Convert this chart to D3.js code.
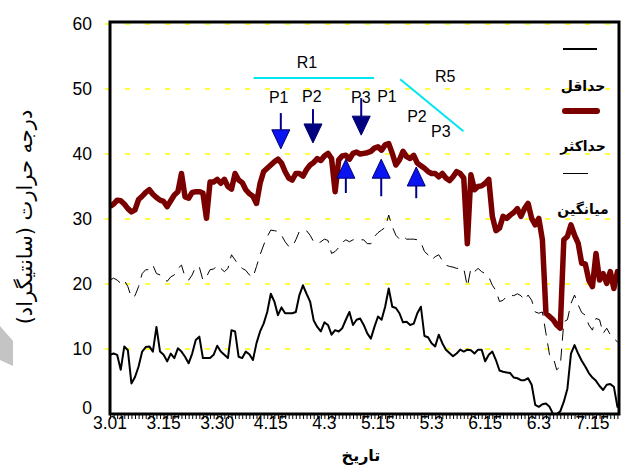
<!DOCTYPE html>
<html>
<head>
<meta charset="utf-8">
<script src="https://cdnjs.cloudflare.com/ajax/libs/d3/7.8.5/d3.min.js"></script>
<style>
  body { margin: 0; background: #fff; }
  text { font-family: "Liberation Sans", Arial, sans-serif; }
  .fa { font-family: "DejaVu Sans", sans-serif; }
</style>
</head>
<body>
<div id="chart"></div>
<script>
// tick labels (day index -> date label)
const tickDays = [0, 15, 30, 45, 60, 75, 90, 105, 120, 135]
const tickLabels = ["3.01", "3.15", "3.30", "4.15", "4.3", "5.15", "5.3", "6.15", "6.3", "7.15"]
const yTicks = [0, 10, 20, 30, 40, 50, 60]

// daily max temperature
const tMax = [
  31.9, 32.3, 32.9, 32.8, 32.3, 31.6, 31.1, 31.4, 33.0, 33.5,
  34.1, 34.5, 33.8, 33.3, 32.9, 32.7, 31.9, 32.8, 33.7, 34.2,
  37.0, 33.4, 33.2, 34.1, 34.2, 34.2, 34.0, 30.1, 35.7, 35.7,
  36.1, 35.5, 36.1, 35.0, 34.6, 37.0, 36.0, 35.6, 34.5, 33.9,
  33.5, 32.4, 35.5, 37.3, 37.8, 38.3, 38.8, 39.2, 38.6, 37.3,
  36.3, 36.0, 37.0, 37.0, 36.6, 37.6, 38.3, 38.7, 39.3, 39.0,
  39.7, 40.1, 39.3, 34.2, 39.1, 39.7, 39.8, 39.2, 40.1, 40.3,
  40.0, 40.1, 40.2, 40.4, 40.9, 41.1, 40.6, 41.4, 41.6, 40.1,
  38.3, 39.1, 40.4, 39.6, 39.3, 39.8, 38.6, 38.2, 37.8, 37.3,
  37.0, 37.0, 36.5, 37.0, 36.3, 35.9, 36.5, 37.3, 37.0, 36.3,
  26.2, 36.8, 34.5, 35.0, 35.1, 35.5, 36.1, 30.4, 28.2, 28.6,
  30.4, 30.1, 30.6, 31.0, 31.6, 30.4, 31.6, 32.4, 30.1, 29.1,
  30.1, 26.8, 15.5, 15.0, 14.5, 13.7, 13.2, 26.8, 27.3, 29.1,
  27.5, 26.3, 23.2, 23.1, 20.6, 19.6, 24.7, 20.6, 21.6, 20.1,
  21.9, 19.3, 21.9, 20.4
]

// daily min temperature
const tMin = [
  9.1, 9.3, 9.1, 6.8, 10.4, 9.8, 4.7, 5.7, 7.3, 9.6,
  10.3, 10.4, 9.6, 13.4, 9.6, 9.1, 8.1, 9.3, 8.6, 10.1,
  9.6, 8.8, 7.8, 9.3, 11.4, 11.9, 8.6, 8.6, 8.6, 9.1,
  10.5, 9.6, 9.1, 8.6, 12.9, 12.7, 8.8, 8.6, 9.6, 9.2,
  8.3, 10.9, 12.7, 13.9, 15.7, 18.5, 17.3, 15.2, 16.4, 15.5,
  15.5, 15.5, 15.7, 18.3, 19.8, 18.5, 17.3, 14.4, 13.4, 12.7,
  14.1, 13.7, 12.2, 12.9, 12.7, 13.2, 14.5, 15.7, 13.7, 14.5,
  14.7, 13.7, 12.4, 11.6, 13.4, 15.0, 14.5, 16.5, 19.3, 16.5,
  16.3, 15.5, 14.1, 14.2, 13.7, 13.9, 15.5, 16.5, 12.0, 11.8,
  10.9, 10.4, 12.2, 10.9, 9.9, 9.4, 8.9, 9.3, 9.9, 9.6,
  9.9, 9.8, 9.3, 9.9, 9.9, 8.1, 9.1, 9.6, 8.3, 6.7,
  6.5, 6.4, 6.3, 5.6, 5.5, 5.2, 5.2, 5.5, 4.5, 1.4,
  1.1, 1.5, 1.6, 1.1, 0, 0, 0.4, 1.9, 3.9, 9.3,
  10.6, 9.3, 8.2, 7.3, 6.3, 5.6, 5.1, 4.3, 3.7, 4.5,
  4.6, 4.2, 1.1, 1.4
]

// daily mean temperature
const tMean = [
  20.6, 20.9, 20.6, 20.1, 20.6, 19.6, 17.9, 18.2, 19.6, 21.6,
  22.2, 22.2, 22.9, 21.6, 21.4, 20.9, 20.4, 21.1, 21.4, 22.4,
  22.9, 21.1, 20.6, 21.4, 22.7, 22.6, 20.6, 21.1, 22.2, 22.3,
  22.9, 22.4, 21.9, 22.4, 24.5, 23.7, 22.9, 22.4, 22.1, 21.4,
  21.0, 22.7, 24.5, 26.0, 27.3, 28.3, 28.2, 28.1, 27.5, 26.5,
  25.8, 25.7, 26.8, 28.1, 28.3, 28.2, 27.5, 26.5, 26.2, 26.5,
  26.9, 26.7, 24.7, 25.0, 25.6, 26.4, 26.8, 26.5, 26.8, 26.9,
  26.8, 26.8, 26.2, 26.2, 27.3, 27.9, 28.3, 28.7, 30.6, 28.8,
  27.5, 26.9, 27.3, 26.9, 26.9, 26.9, 26.8, 26.4, 25.0, 24.5,
  23.7, 24.2, 24.5, 23.6, 22.9, 22.7, 22.6, 22.4, 22.4, 22.4,
  19.6, 22.4, 21.9, 22.4, 21.9, 21.6, 21.1, 19.8, 19.0, 17.3,
  17.5, 18.1, 18.3, 18.2, 18.5, 18.2, 17.5, 18.3, 17.5, 15.7,
  15.5, 15.7, 12.4, 9.1, 8.8, 6.8, 7.3, 14.2, 14.5, 17.0,
  18.3, 16.8, 15.6, 15.2, 13.7, 12.9, 14.7, 14.5, 12.4, 13.2,
  12.2, 11.6, 11.1, 10.6
]

// annotations: [label, day, temp]
const annLabels = [
  ["R1", 55.1, 53.2], ["P1", 47.2, 47.8], ["P2", 56.5, 48.0], ["P3", 70.2, 47.8],
  ["P1", 77.5, 48.0], ["R5", 93.8, 51.1], ["P2", 85.9, 44.9], ["P3", 92.6, 42.6]
]
// cyan lines: [day1, temp1, day2, temp2]
const annLines = [[40.2, 51.7, 73.9, 51.7], [81.2, 51.5, 98.9, 43.5]]
// arrows: [day, tailTemp, tipTemp, kind]
const arrows = [
  [47.8, 46.3, 40.8, "light"], [56.8, 46.9, 41.7, "dark"], [70.3, 48.6, 42.9, "dark"],
  [66.0, 34.0, 39.2, "light"], [75.9, 33.5, 39.2, "light"], [85.7, 33.2, 38.0, "light"]
]

const width = 621, height = 467
const plot = { left: 110, right: 619, top: 24, bottom: 414 }

const svg = d3.select("#chart").append("svg")
  .attr("width", width).attr("height", height)

const x = d3.scaleLinear().domain([0, 143]).range([plot.left, 621])
const y = d3.scaleLinear().domain([0, 60]).range([plot.bottom, plot.top])
const days = tMax.map((v, i) => i)

// grey watermark fragment on the left
svg.append("polygon")
  .attr("points", "0,326 13,341 13,366 0,360")
  .attr("fill", "#c4c4c4")

svg.append("defs").append("clipPath").attr("id", "clip")
  .append("rect")
  .attr("x", plot.left).attr("y", plot.top - 4)
  .attr("width", plot.right - plot.left).attr("height", plot.bottom - plot.top + 4)

// yellow dashed gridlines
svg.append("g").selectAll("line").data(yTicks.slice(1)).enter().append("line")
  .attr("x1", 105).attr("x2", plot.right)
  .attr("y1", d => y(d)).attr("y2", d => y(d))
  .attr("stroke", "#ffff00").attr("stroke-width", 1.6)
  .attr("stroke-dasharray", "5,15")

// y tick labels
svg.append("g").selectAll("text").data(yTicks).enter().append("text")
  .attr("x", 92).attr("y", d => y(d) + (d === 0 ? 0 : 6))
  .attr("text-anchor", "end").attr("font-size", 17.5)
  .text(d => d)

// x axis: daily minor ticks
const xAxis = d3.axisBottom(x).tickValues(d3.range(0, 144)).tickSize(5).tickFormat("")
const xAxisG = svg.append("g").attr("transform", `translate(0, ${plot.bottom})`).call(xAxis)
xAxisG.select(".domain").remove()
xAxisG.selectAll("line").attr("stroke", "#000").attr("stroke-width", 1)

svg.append("g").selectAll("text").data(tickDays).enter().append("text")
  .attr("x", d => x(d)).attr("y", 429)
  .attr("text-anchor", "middle").attr("font-size", 17.5)
  .text((d, i) => tickLabels[i])

// lines
const lineOf = arr => d3.line().x(d => x(d)).y(d => y(arr[d]))
const lines = svg.append("g").attr("clip-path", "url(#clip)")

lines.append("path").datum(days)
  .attr("d", lineOf(tMean))
  .attr("fill", "none").attr("stroke", "#000").attr("stroke-width", 1)
  .attr("stroke-dasharray", "12,8")

lines.append("path").datum(days)
  .attr("d", lineOf(tMin))
  .attr("fill", "none").attr("stroke", "#000").attr("stroke-width", 2)
  .attr("stroke-linejoin", "round")

lines.append("path").datum(days)
  .attr("d", lineOf(tMax))
  .attr("fill", "none").attr("stroke", "#7a0000").attr("stroke-width", 5.5)
  .attr("stroke-linejoin", "round")

// frame
svg.append("rect")
  .attr("x", plot.left).attr("y", 22)
  .attr("width", plot.right - plot.left).attr("height", plot.bottom - 22)
  .attr("fill", "none").attr("stroke", "#000").attr("stroke-width", 3)

// annotations
svg.append("g").selectAll("line").data(annLines).enter().append("line")
  .attr("x1", d => x(d[0])).attr("y1", d => y(d[1]))
  .attr("x2", d => x(d[2])).attr("y2", d => y(d[3]))
  .attr("stroke", "#00e6f0").attr("stroke-width", 2)

svg.append("g").selectAll("text").data(annLabels).enter().append("text")
  .attr("x", d => x(d[1])).attr("y", d => y(d[2]))
  .attr("text-anchor", "middle").attr("font-size", 16)
  .text(d => d[0])

const arrowG = svg.append("g")
arrows.forEach(a => {
  const ax = x(a[0]), tail = y(a[1]), tip = y(a[2])
  const dir = tip > tail ? 1 : -1 // 1 = pointing down
  const headLen = 19, headW = 9
  const base = tip - dir * headLen
  arrowG.append("line")
    .attr("x1", ax).attr("x2", ax).attr("y1", tail).attr("y2", base)
    .attr("stroke", "#00008b").attr("stroke-width", 2)
  arrowG.append("polygon")
    .attr("points", `${ax - headW},${base} ${ax + headW},${base} ${ax},${tip}`)
    .attr("fill", a[3] === "light" ? "#0a14f0" : "#000080")
    .attr("stroke", "#000070").attr("stroke-width", 1)
})

// legend
const legend = svg.append("g")
legend.append("line").attr("x1", 563).attr("x2", 597).attr("y1", 49).attr("y2", 49)
  .attr("stroke", "#000").attr("stroke-width", 2)
legend.append("line").attr("x1", 565).attr("x2", 597).attr("y1", 111).attr("y2", 111)
  .attr("stroke", "#7a0000").attr("stroke-width", 6).attr("stroke-linecap", "round")
legend.append("line").attr("x1", 563).attr("x2", 588).attr("y1", 173.5).attr("y2", 173.5)
  .attr("stroke", "#000").attr("stroke-width", 1).attr("shape-rendering", "crispEdges")
const legendText = [["حداقل", 91], ["حداکثر", 151], ["میانگین", 214]]
legend.selectAll("text").data(legendText).enter().append("text")
  .attr("class", "fa").attr("direction", "rtl")
  .attr("x", 583).attr("y", d => d[1])
  .attr("text-anchor", "middle").attr("font-size", 14).attr("font-weight", "bold")
  .text(d => d[0])

// axis titles
svg.append("text").attr("class", "fa").attr("direction", "rtl")
  .attr("transform", "translate(32, 217) rotate(-90)")
  .attr("text-anchor", "middle").attr("font-size", 21)
  .text("درجه حرارت (سانتیگراد)")

svg.append("text").attr("class", "fa").attr("direction", "rtl")
  .attr("x", 361).attr("y", 461)
  .attr("text-anchor", "middle").attr("font-size", 16).attr("font-weight", "bold")
  .text("تاریخ")
</script>
</body>
</html>
